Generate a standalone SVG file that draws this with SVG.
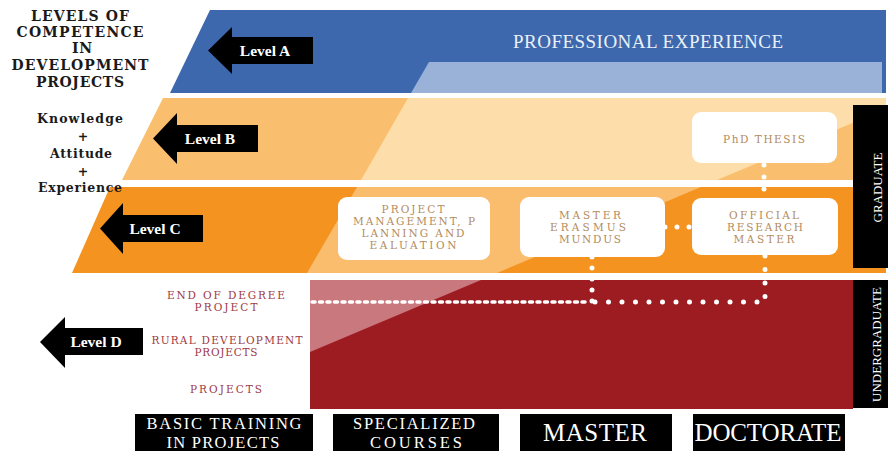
<svg xmlns="http://www.w3.org/2000/svg" width="888" height="451" viewBox="0 0 888 451">
<style>
.title{font-family:"DejaVu Serif","Liberation Serif",serif;font-weight:bold;font-size:14px;fill:#1a1a1a;text-anchor:middle}
.kae{font-family:"DejaVu Serif","Liberation Serif",serif;font-weight:bold;font-size:12.5px;fill:#1a1a1a;text-anchor:middle}
.lvl{font-family:"Liberation Serif","Times New Roman",serif;font-weight:bold;font-size:15.5px;fill:#fff;text-anchor:middle}
.arrow{fill:#000}
.box{fill:#fff}
.boxt{font-family:"DejaVu Serif","Liberation Serif",serif;font-size:10.5px;fill:#B38B5D;text-anchor:middle}
.redt{font-family:"DejaVu Serif","Liberation Serif",serif;font-size:10.5px;fill:#9E3A44;text-anchor:middle}
.bar{fill:#000}
.bart{font-family:"Liberation Serif","Times New Roman",serif;font-size:13px;fill:#fff;text-anchor:middle}
.bot{font-family:"Liberation Serif","Times New Roman",serif;font-size:16.5px;fill:#fff;text-anchor:middle}
.big{font-family:"Liberation Serif","Times New Roman",serif;font-size:25px;fill:#fff;text-anchor:middle}
.dots{fill:none;stroke:#fff;stroke-width:5;stroke-linecap:round}
.dash{fill:none;stroke:#fff;stroke-width:3.5;stroke-linecap:round;stroke-dasharray:3 4.5}
</style>
<rect width="888" height="451" fill="#fff"/>

<g id="bands">
  <polygon points="210,10 886,10 886,93 170,93" fill="#3D68AD"/>
  <polygon points="429,62 882,62 882,93 411,93" fill="#9AB1D8"/>
  <text x="648" y="48" font-family="Liberation Serif, Times New Roman, serif" font-size="19" fill="#EAF0F8" text-anchor="middle" textLength="270">PROFESSIONAL EXPERIENCE</text>
  <polygon points="163,98 886,98 886,180 122,180" fill="#F9BF6E"/>
  <polygon points="408,98 886,98 886,109 717,180 361,180" fill="#FDDDA9"/>
  <polygon points="110,187 886,187 886,273 72,273" fill="#F4931F"/>
  <polygon points="357,187 701,187 497,273 307,273" fill="#FABD6E"/>
  <rect x="310" y="280" width="543" height="129" fill="#9C1C21"/>
  <polygon points="310,280 481,280 310,352" fill="#C9797E"/>
</g>

<g id="title">
  <text class="title" x="80" y="21" textLength="98">LEVELS OF</text>
  <text class="title" x="80" y="37" textLength="127">COMPETENCE</text>
  <text class="title" x="82" y="53" textLength="20">IN</text>
  <text class="title" x="80" y="70" textLength="137">DEVELOPMENT</text>
  <text class="title" x="80" y="87" textLength="88">PROJECTS</text>
</g>

<g id="kae">
  <text class="kae" x="80" y="123" textLength="86">Knowledge</text>
  <text class="kae" x="83" y="141">+</text>
  <text class="kae" x="81" y="158" textLength="62">Attitude</text>
  <text class="kae" x="83" y="176">+</text>
  <text class="kae" x="80" y="192" textLength="84">Experience</text>
</g>

<g id="level-a">
  <path class="arrow" d="M208,50.5 L232,27 V37 H313 V64 H232 V74 Z"/>
  <text class="lvl" x="265" y="55.5">Level A</text>
</g>
<g id="level-b">
  <path class="arrow" d="M153,138.5 L177,113 V125 H258 V152 H177 V164 Z"/>
  <text class="lvl" x="210" y="143.5">Level B</text>
</g>
<g id="level-c">
  <path class="arrow" d="M100,228.5 L123,203 V215 H203 V242 H123 V254 Z"/>
  <text class="lvl" x="155" y="233.5">Level C</text>
</g>
<g id="level-d">
  <path class="arrow" d="M40,342 L65,317 V328 H143 V355 H65 V368 Z"/>
  <text class="lvl" x="96" y="347">Level D</text>
</g>

<g id="connectors">
  <path class="dash" d="M312,302 H589"/>
  <path class="dots" d="M765,256 V302 H592" stroke-dasharray="0 13.5"/>
  <path class="dots" d="M592,257 V302" stroke-dasharray="0 11"/>
  <path class="dots" d="M764,165 V197" stroke-dasharray="0 12"/>
  <path class="dots" d="M665,227 H692" stroke-dasharray="0 12"/>
</g>

<g id="project-management">
  <rect class="box" x="338" y="197" width="152" height="63" rx="9"/>
  <text class="boxt" x="413" y="212.5" textLength="63">PROJECT</text>
  <text class="boxt" x="414" y="224.5" textLength="122">MANAGEMENT, P</text>
  <text class="boxt" x="413" y="236.5" textLength="103">LANNING AND</text>
  <text class="boxt" x="413" y="248.5" textLength="87">EALUATION</text>
</g>
<g id="master-erasmus">
  <rect class="box" x="520" y="197" width="145" height="60" rx="9"/>
  <text class="boxt" x="590" y="219" textLength="62">MASTER</text>
  <text class="boxt" x="588" y="231" textLength="76">ERASMUS</text>
  <text class="boxt" x="590" y="243" textLength="62">MUNDUS</text>
</g>
<g id="official-research-master">
  <rect class="box" x="692" y="198" width="146" height="57" rx="9"/>
  <text class="boxt" x="764" y="219" textLength="70">OFFICIAL</text>
  <text class="boxt" x="765" y="231" textLength="76">RESEARCH</text>
  <text class="boxt" x="764" y="243" textLength="61">MASTER</text>
</g>
<g id="phd-thesis">
  <rect class="box" x="692" y="112" width="145" height="51" rx="9"/>
  <text class="boxt" x="764" y="142.5" textLength="82">PhD THESIS</text>
</g>

<g id="graduate">
  <rect class="bar" x="853" y="105" width="35" height="163"/>
  <text class="bart" transform="translate(882,187.5) rotate(-90)" textLength="70">GRADUATE</text>
</g>
<g id="undergraduate">
  <rect class="bar" x="853" y="280" width="35" height="128"/>
  <text class="bart" transform="translate(881,344.5) rotate(-90)" textLength="115">UNDERGRADUATE</text>
</g>

<g id="undergrad-labels">
  <text class="redt" x="226" y="299" textLength="118">END OF DEGREE</text>
  <text class="redt" x="226" y="311" textLength="63">PROJECT</text>
  <text class="redt" x="227" y="343.5" textLength="151">RURAL DEVELOPMENT</text>
  <text class="redt" x="226" y="355.5" textLength="63">PROJECTS</text>
  <text class="redt" x="226" y="393" textLength="72">PROJECTS</text>
</g>

<g id="basic-training">
  <rect class="bar" x="135" y="414" width="178" height="37"/>
  <text class="bot" x="224" y="429" textLength="155">BASIC TRAINING</text>
  <text class="bot" x="223" y="448" textLength="113">IN PROJECTS</text>
</g>
<g id="specialized-courses">
  <rect class="bar" x="333" y="414" width="166" height="37"/>
  <text class="bot" x="414" y="429" textLength="122">SPECIALIZED</text>
  <text class="bot" x="416" y="448" textLength="92">COURSES</text>
</g>
<g id="master">
  <rect class="bar" x="520" y="414" width="152" height="37"/>
  <text class="big" x="595" y="441" textLength="104">MASTER</text>
</g>
<g id="doctorate">
  <rect class="bar" x="693" y="414" width="152" height="37"/>
  <text class="big" x="768" y="441" textLength="147">DOCTORATE</text>
</g>
</svg>
